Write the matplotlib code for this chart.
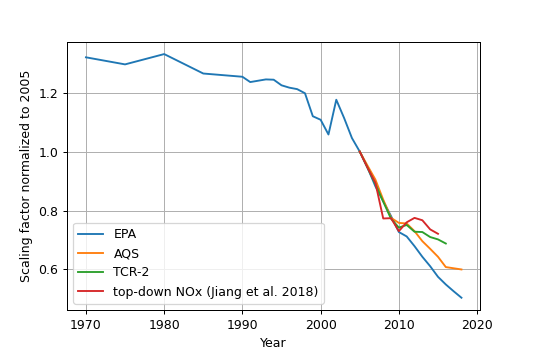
import matplotlib.pyplot as plt

epa_years = [1970, 1975, 1980, 1985, 1990, 1991, 1993, 1994, 1995, 1996, 1997, 1998,
             1999, 2000, 2001, 2002, 2003, 2004, 2005, 2006, 2007, 2008, 2009, 2010,
             2011, 2012, 2013, 2014, 2015, 2016, 2017, 2018]
epa = [1.32, 1.296, 1.331, 1.265, 1.254, 1.236, 1.245, 1.244, 1.225, 1.217, 1.212, 1.198,
       1.12, 1.108, 1.058, 1.176, 1.114, 1.046, 1.0, 0.945, 0.882, 0.832, 0.781, 0.727,
       0.712, 0.679, 0.643, 0.611, 0.575, 0.549, 0.526, 0.504]

aqs_years = list(range(2005, 2019))
aqs = [1.0, 0.952, 0.905, 0.837, 0.775, 0.758, 0.756, 0.730, 0.696, 0.67, 0.643,
       0.608, 0.604, 0.60]

tcr_years = list(range(2005, 2017))
tcr = [1.0, 0.945, 0.89, 0.83, 0.772, 0.742, 0.751, 0.728, 0.727, 0.71, 0.702, 0.688]

jiang_years = list(range(2005, 2016))
jiang = [1.0, 0.945, 0.894, 0.773, 0.774, 0.73, 0.76, 0.775, 0.767, 0.736, 0.721]

# image was rendered at ~0.9 scale, so use 90 dpi
fig = plt.figure(figsize=(533 / 90, 355 / 90), dpi=90)
ax = fig.add_axes([0.126, 0.127, 0.775, 0.755])
ax.plot(epa_years, epa, label="EPA")
ax.plot(aqs_years, aqs, label="AQS")
ax.plot(tcr_years, tcr, label="TCR-2")
ax.plot(jiang_years, jiang, label="top-down NOx (Jiang et al. 2018)")
ax.set_xlabel("Year")
ax.set_ylabel("Scaling factor normalized to 2005")
ax.set_xticks([1970, 1980, 1990, 2000, 2010, 2020])
ax.set_yticks([0.6, 0.8, 1.0, 1.2])
ax.grid()
ax.legend(loc="lower left")
fig.savefig("out.png", dpi=90)
